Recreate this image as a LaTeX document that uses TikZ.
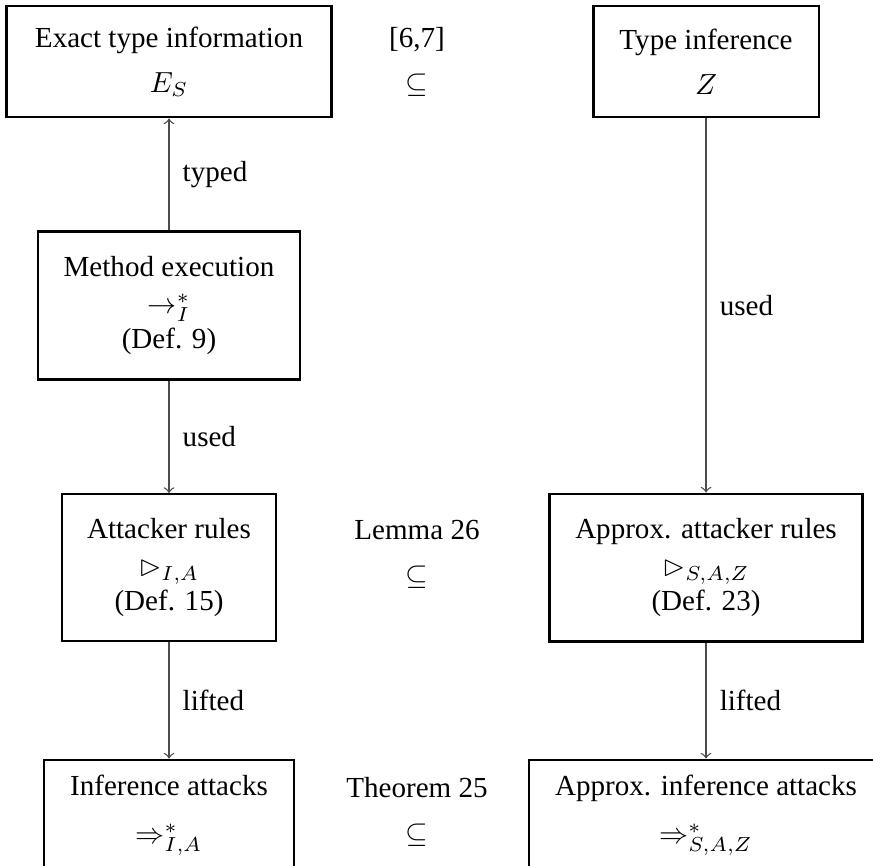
\documentclass[tikz,border=0pt]{standalone}
\usepackage{amssymb}
\usepackage{fontspec}
\setmainfont{Liberation Serif}
\begin{document}
\begin{tikzpicture}[x=0.344pt, y=-0.344pt,
  box/.style={draw, line width=1pt, align=center, inner sep=0pt},
  thinbox/.style={box, line width=0.7pt},
  note/.style={align=center, inner sep=0pt},
  conn/.style={draw=black!70, line width=0.45pt, ->},
  lbl/.style={right, inner sep=4.5pt, text=black}]
  \useasboundingbox (0,0) rectangle (873,865);
  \clip (0,0) rectangle (873,865);

  % top row
  \node[box, minimum width=111.5pt, minimum height=38.2pt] (exact) at (169,61.5)
    {Exact type information\\[3.5pt]$E_S$};
  \node[note] (ref) at (417,61.5) {[6,7]\\[3.5pt]$\subseteq$};
  \node[box, minimum width=77.7pt, minimum height=38.2pt] (tinf) at (706,61.5)
    {Type inference\\[3.5pt]$Z$};

  % method execution
  \node[box, minimum width=90.1pt, minimum height=50.6pt] (exec) at (169,305.5)
    {Method execution\\[1pt]$\rightarrow_I^*$\\(Def. 9)};

  % attacker rules
  \node[thinbox, minimum width=73.6pt, minimum height=50.6pt] (rules) at (169,567.5)
    {Attacker rules\\[1pt]$\rhd_{I,A}$\\(Def. 15)};
  \node[note] (lem) at (417,554) {Lemma 26\\[3.5pt]$\subseteq$};
  \node[box, minimum width=107.7pt, minimum height=50.6pt] (arules) at (706,567.5)
    {Approx. attacker rules\\[1pt]$\rhd_{S,A,Z}$\\(Def. 23)};

  % inference attacks (cut by the lower edge)
  \node[box, minimum width=86pt, minimum height=38.2pt] (att) at (169,815.5)
    {Inference attacks\\[4.5pt]$\Rightarrow_{I,A}^*$};
  \node[note] (thm) at (417,812) {Theorem 25\\[3.5pt]$\subseteq$};
  \node[box, minimum width=121.8pt, minimum height=38.2pt] (aatt) at (706,815.5)
    {Approx. inference attacks\\[4.5pt]$\Rightarrow_{S,A,Z}^*$};

  % connectors
  \draw[conn] (exec.north) -- node[lbl] {typed} (exact.south);
  \draw[conn] (exec.south) -- node[lbl] {used} (rules.north);
  \draw[conn] (tinf.south) -- node[lbl] {used} (arules.north);
  \draw[conn] (rules.south) -- node[lbl] {lifted} (att.north);
  \draw[conn] (arules.south) -- node[lbl] {lifted} (aatt.north);
\end{tikzpicture}
\end{document}
